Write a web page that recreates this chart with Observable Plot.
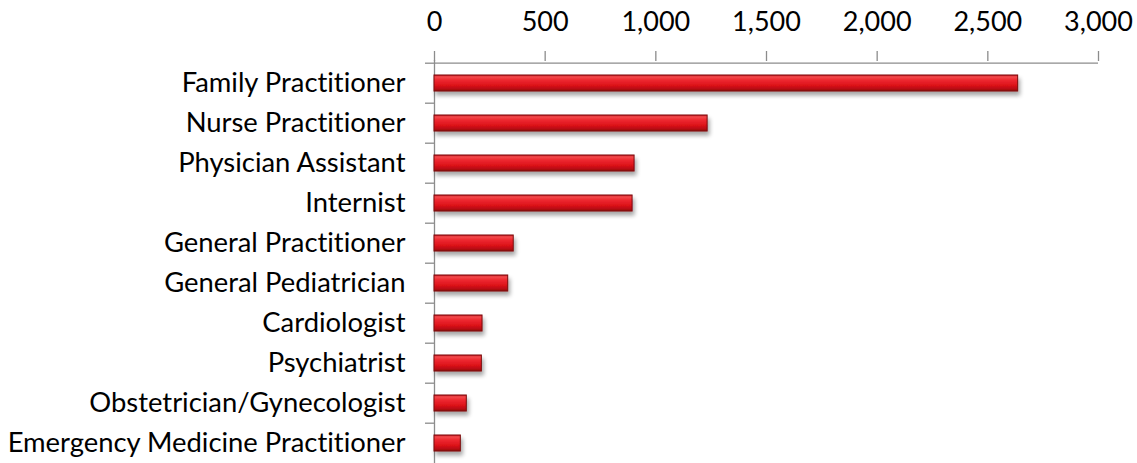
<!DOCTYPE html>
<html>
<head>
<meta charset="utf-8">
<script src="https://cdn.jsdelivr.net/npm/d3@7"></script>
<script src="https://cdn.jsdelivr.net/npm/@observablehq/plot@0.6"></script>
<style>
  html, body { margin: 0; padding: 0; background: #fff; }
  svg { display: block; }
  svg text { font-variant-ligatures: none; font-feature-settings: "liga" 0, "clig" 0; }
</style>
</head>
<body>
<div id="chart"></div>
<script>
const categories = [
  "Family Practitioner",
  "Nurse Practitioner",
  "Physician Assistant",
  "Internist",
  "General Practitioner",
  "General Pediatrician",
  "Cardiologist",
  "Psychiatrist",
  "Obstetrician/Gynecologist",
  "Emergency Medicine Practitioner"
];
const values = [2637, 1234, 904, 895, 358, 333, 217, 214, 146, 119];
const xTicks = [0, 500, 1000, 1500, 2000, 2500, 3000];

const data = categories.map((c, i) => ({category: c, value: values[i]}));

const FONT = "Lato, 'Open Sans', sans-serif";
const bandStep = 40.6;

const chart = Plot.plot({
  width: 1137,
  height: 463,
  marginLeft: 434,
  marginRight: 39,
  marginTop: 60,
  marginBottom: 0,
  style: {fontFamily: FONT, fontSize: "27.4px", color: "#000", background: "#fff", overflow: "visible"},
  x: {domain: [0, 3000], range: [434, 1098]},
  y: {domain: categories, range: [60, 466], paddingInner: 0.6, paddingOuter: 0.3, align: 0.5},
  marks: [
    Plot.gridX(xTicks, {stroke: "#8c8c8c", strokeOpacity: 1, strokeWidth: 1.3, y1: 60, y2: 466}),
    Plot.ruleY([0], {y: () => categories[0], dy: -bandStep / 2, x1: 0, x2: 3000, stroke: "#8c8c8c", strokeWidth: 1.3}),
    Plot.ruleX([0], {stroke: "#8c8c8c", strokeWidth: 1.3}),
    Plot.axisX(xTicks, {anchor: "top", tickSize: 10, tickPadding: 20, tickFormat: d3.format(","), stroke: "#8c8c8c", strokeWidth: 1.3, fontSize: 27, fill: "#000", label: null}),
    Plot.axisY(categories, {anchor: "left", tickSize: 9, dy: -bandStep / 2, text: null, stroke: "#8c8c8c", strokeWidth: 1.3, label: null}),
    Plot.axisY(categories, {anchor: "left", tickSize: 0, tickPadding: 29, fontSize: 27.4, fill: "#000", label: null}),
    Plot.barX(data, {x: "value", y: "category", fill: "url(#redGrad)", stroke: "#7a0a0c", strokeWidth: 1, className: "bevel-bar"})
  ]
});

// gradient + shadow definitions for bar styling
const ns = "http://www.w3.org/2000/svg";
const defs = document.createElementNS(ns, "defs");
defs.innerHTML = `
  <linearGradient id="redGrad" x1="0" y1="0" x2="0" y2="1">
    <stop offset="0" stop-color="#c81a1f"/>
    <stop offset="0.12" stop-color="#f24a4c"/>
    <stop offset="0.3" stop-color="#ee2a30"/>
    <stop offset="0.65" stop-color="#dc1219"/>
    <stop offset="0.88" stop-color="#b50c12"/>
    <stop offset="1" stop-color="#8e080c"/>
  </linearGradient>
  <filter id="barShadow" x="-5%" y="-30%" width="115%" height="190%">
    <feGaussianBlur in="SourceAlpha" stdDeviation="2"/>
    <feOffset dx="2" dy="4" result="off"/>
    <feComponentTransfer><feFuncA type="linear" slope="0.35"/></feComponentTransfer>
    <feMerge><feMergeNode/><feMergeNode in="SourceGraphic"/></feMerge>
  </filter>`;
chart.insertBefore(defs, chart.firstChild);
chart.querySelectorAll("g.bevel-bar").forEach(g => g.setAttribute("filter", "url(#barShadow)"));

document.getElementById("chart").appendChild(chart);
</script>
</body>
</html>
